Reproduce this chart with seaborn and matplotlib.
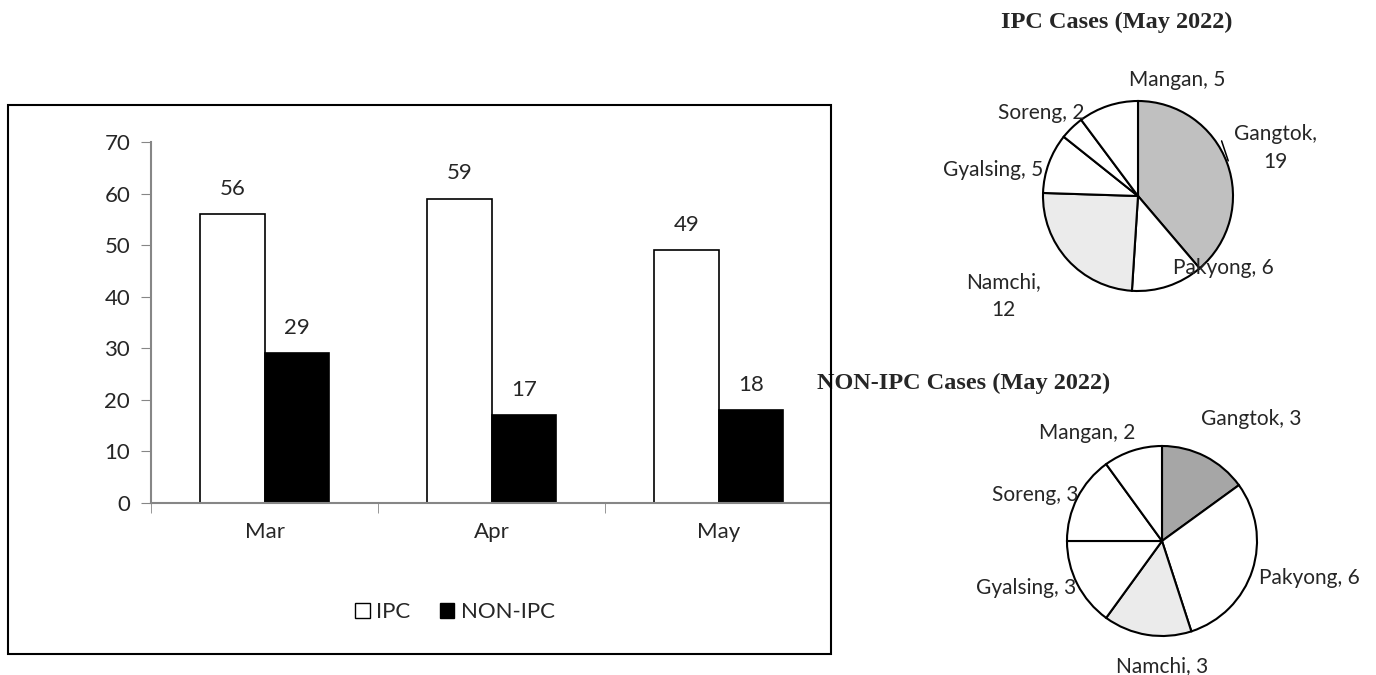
import pandas as pd
import matplotlib.pyplot as plt
import matplotlib.patches as mpatches
import seaborn as sns

# data
months = ["Mar", "Apr", "May"]
ipc_cases = [56, 59, 49]
non_ipc_cases = [29, 17, 18]

districts = ["Gangtok", "Pakyong", "Namchi", "Gyalsing", "Soreng", "Mangan"]
ipc_may = [19, 6, 12, 5, 2, 5]
non_ipc_may = [3, 6, 3, 3, 3, 2]

# pie label spots, in pie-radius units from the centre
ipc_label_pos = [(1.45, 0.5), (0.9, -0.76), (-1.42, -1.05), (-1.52, 0.27), (-1.02, 0.87), (0.41, 1.22)]
non_ipc_label_pos = [(0.94, 1.28), (1.55, -0.39), (0.0, -1.32), (-1.43, -0.49), (-1.33, 0.48), (-0.79, 1.14)]

sns.set_style("white")
plt.rcParams["font.family"] = ["Lato", "DejaVu Sans"]

df = pd.DataFrame({
    "month": months * 2,
    "cases": ipc_cases + non_ipc_cases,
    "type": ["IPC"] * 3 + ["NON-IPC"] * 3,
})

fig = plt.figure(figsize=(13.76, 6.75), dpi=100)
W, H = 1376, 675

# outer frame around the bar chart
fr_l, fr_t, fr_r, fr_b = 8, 105, 831, 654
fig.patches.append(mpatches.Rectangle((fr_l / W, 1 - fr_b / H), (fr_r - fr_l) / W, (fr_b - fr_t) / H,
                                      transform=fig.transFigure, fill=False,
                                      edgecolor="black", lw=1.5, zorder=10))

ax = fig.add_axes([151 / W, 1 - 503 / H, 679 / W, 361 / H])
sns.barplot(data=df, x="month", y="cases", hue="type",
            palette={"IPC": "white", "NON-IPC": "black"},
            edgecolor="black", linewidth=1.2, width=0.568, ax=ax, legend=False)
for c in ax.containers:
    ax.bar_label(c, padding=11, fontsize=16)
ax.set_ylim(0, 70)
ax.set_xlim(-0.5, 2.49)
ax.set_yticks(range(0, 71, 10))
ax.set_xlabel("")
ax.set_ylabel("")
ax.tick_params(axis="y", labelsize=16, length=7, color="#868686", direction="out", left=True, pad=8)
ax.tick_params(axis="x", labelsize=16, length=0, pad=14)
ax.set_xticks([-0.5, 0.5, 1.5], minor=True)
ax.tick_params(axis="x", which="minor", length=7, color="#868686", direction="out", bottom=True)
for s in ["top", "right"]:
    ax.spines[s].set_visible(False)
for s in ["left", "bottom"]:
    ax.spines[s].set_color("#868686")
    ax.spines[s].set_linewidth(1.5)

handles = [mpatches.Patch(facecolor="white", edgecolor="black", label="IPC"),
           mpatches.Patch(facecolor="black", edgecolor="black", label="NON-IPC")]
fig.legend(handles=handles, loc="center", bbox_to_anchor=(455 / W, 1 - 612 / H),
           ncol=2, frameon=False, fontsize=16, handlelength=0.65, handleheight=0.65,
           handletextpad=0.3, columnspacing=1.3)


def draw_pie(cx, cy, r, values, colors, label_pos, title, tx, ty):
    pax = fig.add_axes([(cx - r) / W, 1 - (cy + r) / H, 2 * r / W, 2 * r / H])
    pax.pie(values, colors=colors, startangle=90, counterclock=False,
            wedgeprops={"edgecolor": "black", "linewidth": 1.5})
    pax.set_xlim(-1, 1)
    pax.set_ylim(-1, 1)
    pax.axis("off")
    for name, v, (lx, ly) in zip(districts, values, label_pos):
        txt = f"{name}, {v}"
        if v >= 10:
            txt = f"{name},\n{v}"
        pax.text(lx, ly, txt, ha="center", va="center", fontsize=15,
                 clip_on=False, linespacing=1.5)
    fig.text(tx / W, 1 - ty / H, title, ha="center", va="center",
             fontsize=17.5, fontweight="bold", family="Liberation Serif")
    return pax


ipc_colors = ["#c0c0c0", "white", "#ebebeb", "white", "white", "white"]
non_ipc_colors = ["#a6a6a6", "white", "#ebebeb", "white", "white", "white"]

pax1 = draw_pie(1138, 196, 95, ipc_may, ipc_colors, ipc_label_pos,
                "IPC Cases (May 2022)", 1117, 22)
# short leader line from the Gangtok label to its slice
pax1.plot([0.88, 0.95], [0.58, 0.37], color="black", lw=1.1, clip_on=False, zorder=5)
draw_pie(1162, 541, 95, non_ipc_may, non_ipc_colors, non_ipc_label_pos,
         "NON-IPC Cases (May 2022)", 964, 383)

fig.savefig("out.png", dpi=100)
